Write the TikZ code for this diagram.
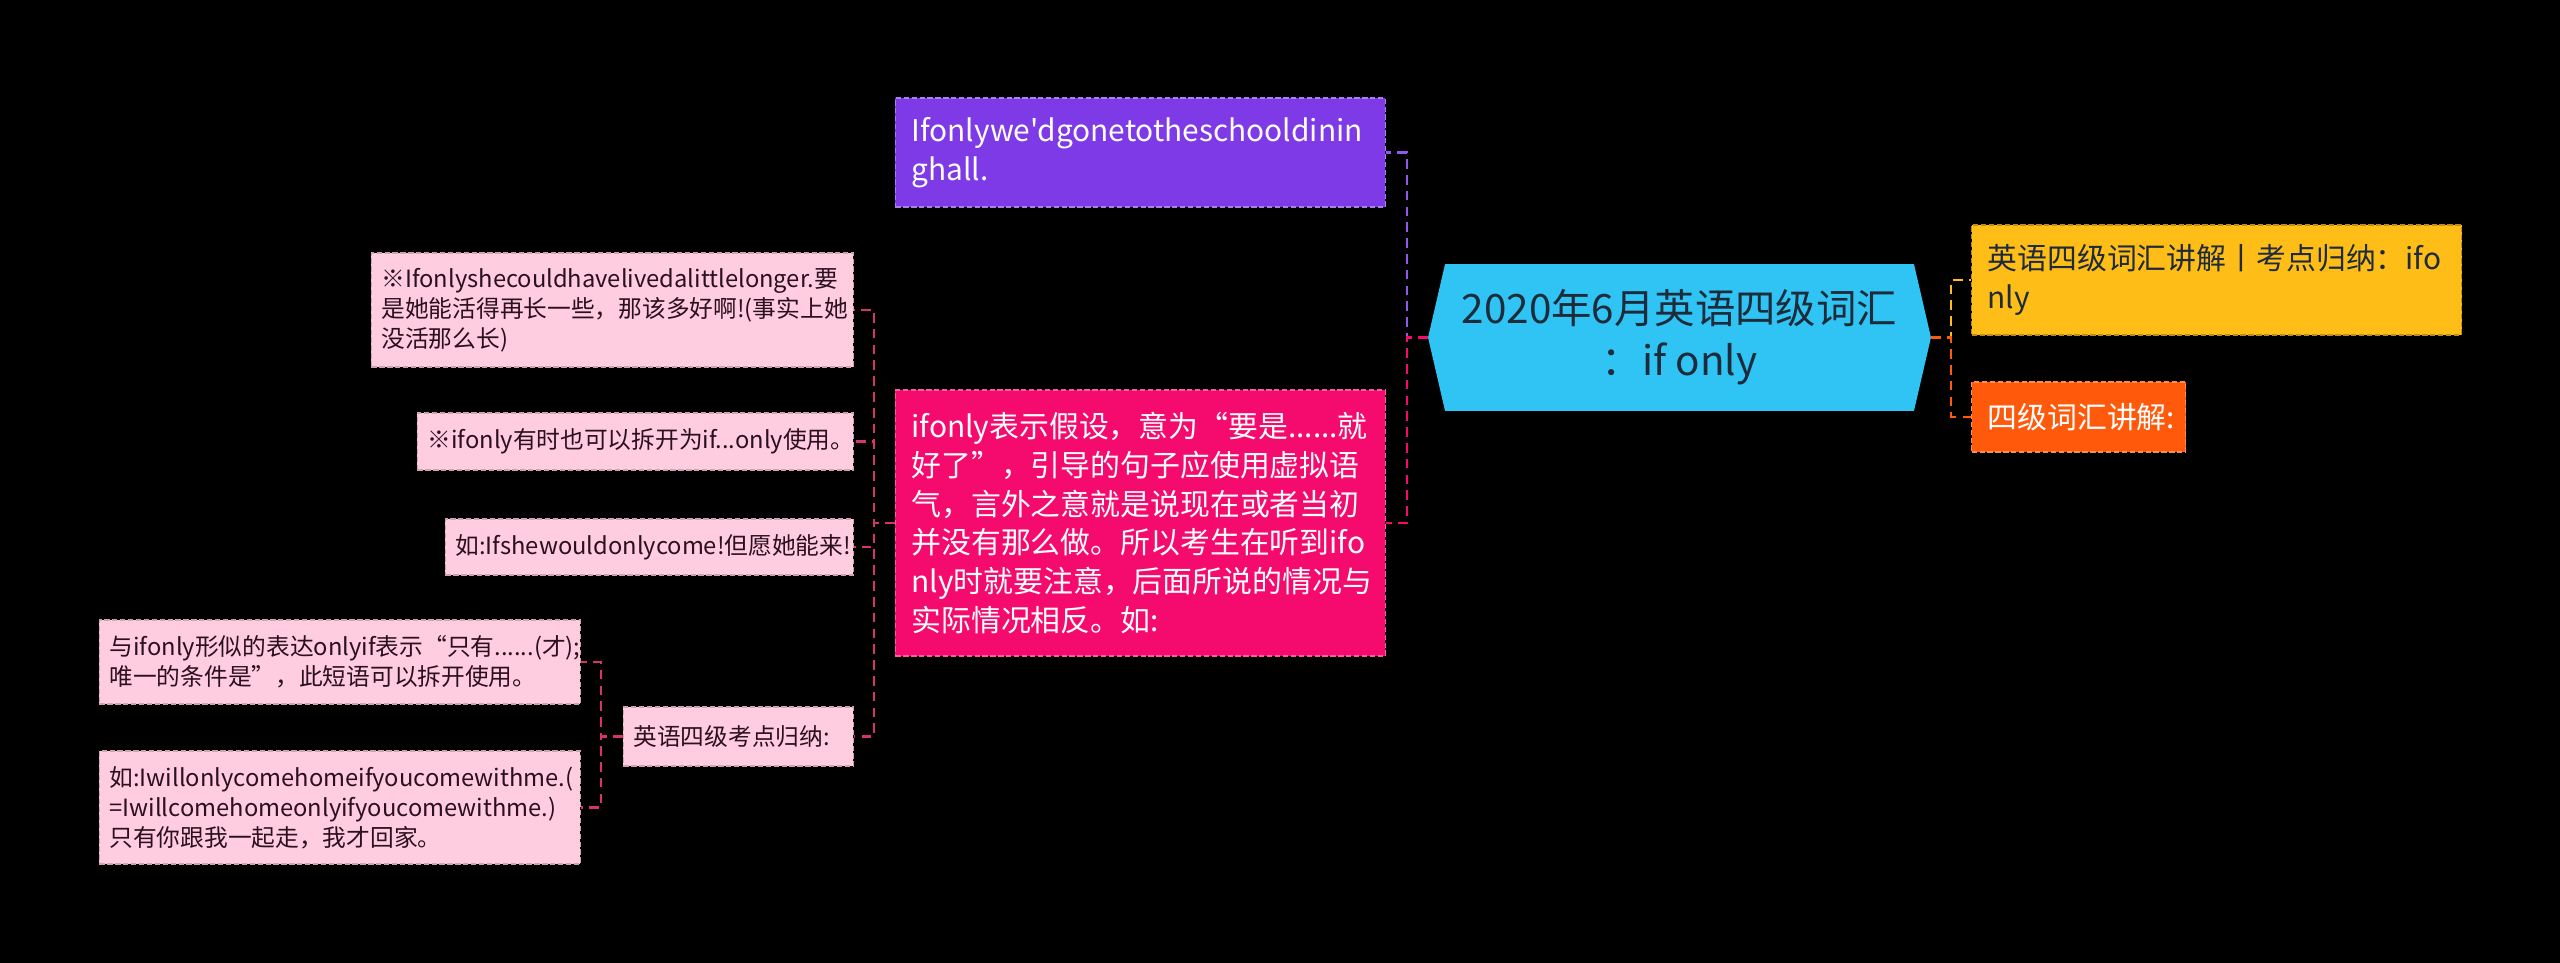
\documentclass[tikz,border=0pt]{standalone}
\usepackage{fontspec}
\setmainfont{Noto Sans CJK SC}[Ligatures=TeXOff]
\usepackage{xcolor}
\usepackage{tikz}
\usetikzlibrary{positioning}

\definecolor{rootblue}{HTML}{2FC4F4}
\definecolor{roottext}{HTML}{1E2B3A}
\definecolor{violet1}{HTML}{7F3AE8}
\definecolor{rose1}{HTML}{F50A6E}
\definecolor{gold1}{HTML}{FFBE17}
\definecolor{tangerine}{HTML}{FF5A0C}
\definecolor{blush}{HTML}{FFCCE0}
\definecolor{blushtext}{HTML}{2B1020}
\definecolor{roselink}{HTML}{D6336F}

\begin{document}
\hyphenpenalty=10000
\begin{tikzpicture}[x=0.02cm, y=-0.02cm,
    box/.style={draw, dashed, dash pattern=on 3pt off 1.5pt, line width=0.7pt, align=left, inner ysep=0pt},
    mainbox/.style={box, inner xsep=0.32cm, text=white, font=\fontsize{17pt}{22pt}\selectfont},
    leafbox/.style={box, inner xsep=0.2cm, fill=blush, draw=blush!80!black, text=blushtext, font=\fontsize{13.5pt}{17pt}\selectfont},
    link/.style={dashed, dash pattern=on 5.5pt off 3.5pt, line width=1.3pt}]
    % background
    \fill[black] (0,0) rectangle (2560,963);

    % centre
    \node[minimum width=10.06cm, minimum height=2.94cm, inner sep=0pt, align=center, text=roottext,
        font=\fontsize{23pt}{29.6pt}\selectfont,
        path picture={\fill[rootblue] (path picture bounding box.west)
            -- ([xshift=0.34cm]path picture bounding box.north west)
            -- ([xshift=-0.34cm]path picture bounding box.north east)
            -- (path picture bounding box.east)
            -- ([xshift=-0.34cm]path picture bounding box.south east)
            -- ([xshift=0.34cm]path picture bounding box.south west) -- cycle;}]
        (root) at (1679.5,337.5) {2020年6月英语四级词汇\\：if only};

    % right side
    \node[mainbox, fill=gold1, draw=gold1!75!black, text=roottext, text width=9.16cm, minimum height=2.2cm, anchor=west]
        (vocab) at (1971,280) {英语四级词汇讲解丨考点归纳：ifo\\nly};
    \node[mainbox, fill=tangerine, draw=tangerine!70!white, text width=3.64cm, minimum height=1.4cm, anchor=west]
        (lecture) at (1971,417) {四级词汇讲解:};

    % left side
    \node[mainbox, fill=violet1, draw=violet1!65!white, text width=9.16cm, minimum height=2.18cm, anchor=east]
        (dining) at (1386,152.5) {Ifonlywe'dgonetotheschooldinin\\ghall.};
    \node[mainbox, fill=rose1, draw=rose1!65!white, text width=9.16cm, minimum height=5.32cm, anchor=east]
        (meaning) at (1386,523) {ifonly表示假设，意为“要是......就\\好了”，引导的句子应使用虚拟语\\气，言外之意就是说现在或者当初\\并没有那么做。所以考生在听到ifo\\nly时就要注意，后面所说的情况与\\实际情况相反。如:};

    \node[leafbox, text width=9.24cm, minimum height=2.28cm, anchor=east]
        (longer) at (854,310) {※Ifonlyshecouldhavelivedalittlelonger.要\\是她能活得再长一些，那该多好啊!(事实上她\\没活那么长)};
    \node[leafbox, text width=8.32cm, minimum height=1.14cm, anchor=east]
        (split) at (854,441.5) {※ifonly有时也可以拆开为if...only使用。};
    \node[leafbox, text width=7.76cm, minimum height=1.12cm, anchor=east]
        (wish) at (854,547) {如:Ifshewouldonlycome!但愿她能来!};
    \node[leafbox, text width=4.2cm, minimum height=1.18cm, anchor=east]
        (points) at (854,736.5) {英语四级考点归纳:};
    \node[leafbox, text width=9.22cm, minimum height=1.68cm, anchor=east]
        (onlyif) at (581,662) {与ifonly形似的表达onlyif表示“只有......(才);\\唯一的条件是”，此短语可以拆开使用。};
    \node[leafbox, text width=9.22cm, minimum height=2.26cm, anchor=east]
        (home) at (581,807.5) {如:Iwillonlycomehomeifyoucomewithme.(\\=Iwillcomehomeonlyifyoucomewithme.)\\只有你跟我一起走，我才回家。};

    % connectors
    \draw[link, violet1!85!white] (root.west) -- +(-21,0) |- (dining.east);
    \draw[link, rose1] (root.west) -- +(-21,0) |- (meaning.east);
    \draw[link, gold1] (root.east) -- +(20,0) |- (vocab.west);
    \draw[link, tangerine] (root.east) -- +(20,0) |- (lecture.west);
    \foreach \leaf in {longer, split, wish, points}
        \draw[link, roselink] (meaning.west) -- +(-21,0) |- (\leaf.east);
    \foreach \leaf in {onlyif, home}
        \draw[link, roselink] (points.west) -- +(-22,0) |- (\leaf.east);
\end{tikzpicture}
\end{document}
